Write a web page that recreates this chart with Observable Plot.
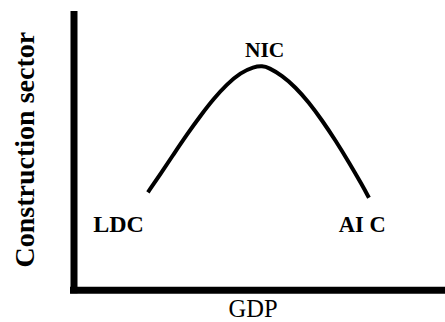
<!DOCTYPE html>
<html><head><meta charset="utf-8">
<script src="https://cdn.jsdelivr.net/npm/d3@7"></script>
<script src="https://cdn.jsdelivr.net/npm/@observablehq/plot@0.6"></script>
<style>body{margin:0;background:#fff}</style>
</head><body><div id="chart"></div>
<script>
// Curve (relative GDP, relative construction-sector share)
const gdp = [19.9, 23.3, 26.9, 30.5, 34.1, 37.6, 41.2, 44.8, 48.4, 50.7, 52.4, 56.0, 59.6, 63.2, 66.8, 70.4, 74.0, 77.6, 79.4];
const construction = [35.6, 42.3, 49.6, 56.8, 63.5, 69.6, 74.9, 79.0, 81.2, 81.5, 80.9, 78.0, 73.8, 68.3, 61.7, 54.4, 46.5, 38.1, 33.6];

// Development stage labels
const stageNames = ["LDC", "NIC", "AI C"];
const stageGdp = [12.0, 51.3, 77.6];
const stageLevel = [21.0, 84.7, 21.0];

const xLabel = "GDP";
const yLabel = "Construction sector";

const curveData = gdp.map((x, i) => ({x, y: construction[i]}));
const stages = stageNames.map((name, i) => ({name, x: stageGdp[i], y: stageLevel[i]}));
const stageFont = {"LDC": 24, "NIC": 21.5, "AI C": 22.5};

const chart = Plot.plot({
  width: 445,
  height: 322,
  marginLeft: 73.5,
  marginRight: 0,
  marginTop: 14.5,
  marginBottom: 32.25,
  x: {domain: [0, 100], axis: null},
  y: {domain: [0, 100], axis: null},
  style: {fontFamily: "'Liberation Serif', 'Times New Roman', serif", background: "white", color: "black"},
  marks: [
    Plot.ruleX([0], {stroke: "black", strokeWidth: 7, strokeLinecap: "square"}),
    Plot.ruleY([0], {stroke: "black", strokeWidth: 7, strokeLinecap: "square"}),
    Plot.line(curveData, {x: "x", y: "y", curve: "basis", stroke: "black", strokeWidth: 4, strokeLinecap: "butt"}),
    Plot.text(stages, {x: "x", y: "y", text: "name", lineAnchor: "bottom", textAnchor: "middle",
      fontWeight: "bold", fontSize: d => stageFont[d.name], fill: "black"}),
    Plot.text([xLabel], {text: d => d, frameAnchor: "bottom", lineAnchor: "bottom", textAnchor: "middle",
      dx: -6.75, dy: 27, fontSize: 24.5, fill: "black"}),
    Plot.text([yLabel], {text: d => d, frameAnchor: "left", rotate: -90, lineAnchor: "bottom", textAnchor: "middle",
      dx: -40.5, dy: -3, fontSize: 28, fontWeight: "bold", fill: "black"})
  ]
});
document.getElementById("chart").appendChild(chart);
</script>
</body></html>
